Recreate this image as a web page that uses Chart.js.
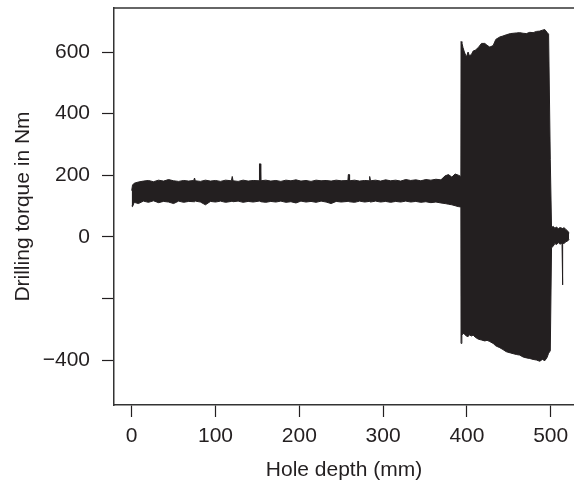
<!DOCTYPE html>
<html>
<head>
<meta charset="utf-8">
<script src="https://cdn.jsdelivr.net/npm/chart.js@4/dist/chart.umd.min.js"></script>
<style>
  html, body { margin: 0; padding: 0; background: #fff; overflow: hidden; }
  #wrap { width: 574px; height: 485px; }
</style>
</head>
<body>
<div id="wrap"><canvas id="torqueChart" width="574" height="485"></canvas></div>
<script>
// Hole depth (mm) samples, with the upper and lower envelope of the torque trace (Nm)
const depth = [
  0, 1, 3, 8, 14, 20, 26, 32, 38, 44, 50, 56, 62, 68, 74, 75, 76, 82, 88, 94,
  100, 106, 112, 119, 120, 121, 127, 133, 139, 145, 152, 152.5, 153.5, 154, 160, 166, 172, 178, 184, 190,
  196, 202, 208, 214, 220, 226, 232, 238, 244, 250, 258, 258.5, 259.5, 260, 266, 272, 278, 283.5, 284, 285,
  291, 297, 303, 309, 315, 321, 327, 333, 339, 345, 351, 357, 363, 369, 374, 378, 382, 386, 390, 392.8,
  393, 394, 395.4, 397, 399.4, 401.4, 403, 405.4, 407.4, 410, 413.4, 417.4, 421.4, 424, 427.3, 431.3, 434.5, 439.3, 443, 447,
  452, 459, 463, 467, 471, 475, 479, 483, 487, 490, 493, 495.6, 497.5, 499.5, 501,
  503, 505, 507, 509, 511, 513.5, 514, 514.5, 516, 518, 520, 522
];
const upper = [
  150, 168, 174, 178, 181, 183, 179, 184, 181, 186, 182, 180, 183, 181, 183, 191, 182, 180, 184, 181,
  183, 180, 184, 182, 196, 182, 180, 184, 181, 183, 182, 237, 237, 182, 184, 181, 183, 180, 184, 182,
  185, 181, 183, 180, 184, 182, 183, 181, 184, 182, 183, 202, 202, 182, 184, 181, 183, 182, 196, 182,
  184, 181, 185, 182, 184, 181, 186, 183, 185, 182, 186, 184, 187, 185, 198, 202, 194, 204, 200, 196,
  634, 630, 614, 600, 584, 600, 588, 592, 603, 606, 614, 628, 628, 622, 616, 621, 641, 649, 652, 656,
  660, 662, 663, 661, 660, 664, 663, 667, 668, 671, 673, 664, 658, 250, 30,
  34, 28, 32, 26, 30, 28, 27, 26, 30, 24, 20, 12
];
const lower = [
  100, 98, 112, 108, 116, 112, 117, 111, 115, 113, 108, 116, 112, 115, 114, 114, 116, 113, 104, 115,
  113, 116, 112, 115, 115, 114, 116, 112, 115, 113, 116, 116, 116, 114, 112, 115, 113, 116, 112, 114,
  110, 116, 113, 115, 112, 116, 113, 108, 115, 113, 115, 115, 114, 114, 112, 116, 113, 115, 115, 113,
  116, 113, 115, 112, 115, 113, 116, 113, 115, 112, 114, 111, 113, 110, 108, 106, 104, 101, 98, 97,
  -346, -320, -313, -316, -322, -324, -318, -322, -319, -326, -332, -335, -338, -336, -340, -346, -354, -360, -366, -373,
  -377, -382, -384, -390, -393, -395, -398, -400, -404, -398, -402, -392, -378, -370, -36,
  -30, -22, -25, -18, -24, -20, -156, -20, -22, -16, -14, -8
];
const xTicks = [0, 100, 200, 300, 400, 500];
const yTicks = [-400, -200, 0, 200, 400, 600];
const yLabelled = [-400, 0, 200, 400, 600];

const ink = '#231f20';
const font = { family: 'Liberation Sans, Arial, sans-serif', size: 21 };

// top edge of the box (R style frame, right side falls outside the picture)
const topFrame = {
  id: 'topFrame',
  afterDraw(chart) {
    const { ctx, chartArea } = chart;
    ctx.save();
    ctx.strokeStyle = '#333';
    ctx.lineWidth = 1.5;
    ctx.beginPath();
    ctx.moveTo(chartArea.left, chartArea.top);
    ctx.lineTo(chartArea.right, chartArea.top);
    ctx.stroke();
    ctx.restore();
  }
};

const toPoints = (ys) => depth.map((d, i) => ({ x: d, y: ys[i] }));

new Chart(document.getElementById('torqueChart').getContext('2d'), {
  type: 'line',
  data: {
    datasets: [
      { label: 'upper', data: toPoints(upper), borderColor: ink, backgroundColor: ink, borderWidth: 1, pointRadius: 0, tension: 0, fill: '+1' },
      { label: 'lower', data: toPoints(lower), borderColor: ink, backgroundColor: ink, borderWidth: 1, pointRadius: 0, tension: 0, fill: false }
    ]
  },
  options: {
    responsive: false,
    animation: false,
    layout: { padding: { top: 8, right: 0, left: 0, bottom: 0 } },
    plugins: { legend: { display: false }, tooltip: { enabled: false } },
    scales: {
      x: {
        type: 'linear',
        min: -21.1,
        max: 527.8,
        afterBuildTicks: (s) => { s.ticks = xTicks.map(v => ({ value: v })); },
        afterFit: (s) => { s.height = 80; s.paddingLeft = 0; s.paddingRight = 0; },
        grid: { drawOnChartArea: false, tickLength: 12, tickColor: ink, tickWidth: 1.2 },
        border: { display: true, color: '#333', width: 1.5 },
        ticks: { color: ink, font: font, padding: 7, maxRotation: 0 },
        title: { display: true, text: 'Hole depth (mm)', color: ink, font: font, padding: { top: 0, bottom: 2 } }
      },
      y: {
        min: -546,
        max: 743,
        afterBuildTicks: (s) => { s.ticks = yTicks.map(v => ({ value: v })); },
        afterFit: (s) => { s.width = 114; s.paddingTop = 0; s.paddingBottom = 0; },
        grid: { drawOnChartArea: false, tickLength: 12, tickColor: ink, tickWidth: 1.2 },
        border: { display: true, color: '#333', width: 1.5 },
        ticks: {
          color: ink, font: font, padding: 12,
          callback: (v) => yLabelled.includes(v) ? String(v).replace('-', '\u2212') : ''
        },
        title: { display: true, text: 'Drilling torque in Nm', color: ink, font: font, padding: { top: 11, bottom: 0 } }
      }
    }
  },
  plugins: [topFrame]
});
</script>
</body>
</html>
